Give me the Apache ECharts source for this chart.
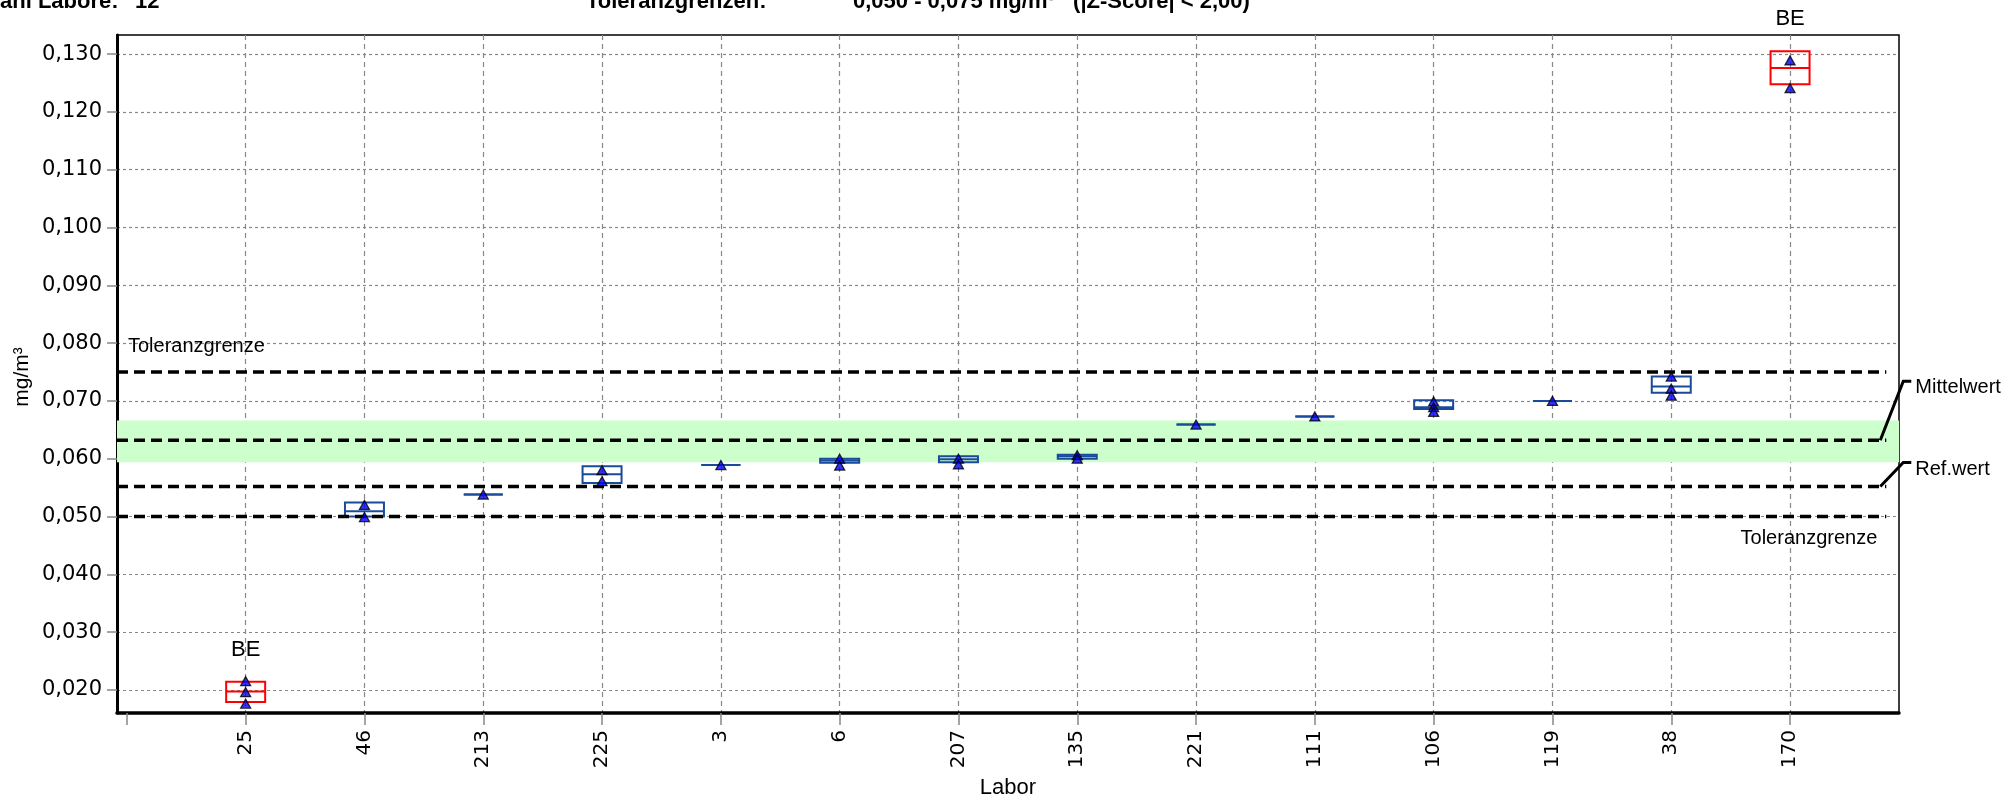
<!DOCTYPE html>
<html>
<head>
<meta charset="utf-8">
<script src="https://cdn.jsdelivr.net/npm/echarts@6/dist/echarts.min.js"></script>
<style>
html, body { margin: 0; padding: 0; background: #fff; }
#main { width: 2011px; height: 800px; }
</style>
</head>
<body>
<div id="main"></div>
<script>
// Labore in plot order
var labs = ['25', '46', '213', '225', '3', '6', '207', '135', '221', '111', '106', '119', '38', '170'];
// box per lab: lower edge, upper edge, middle line
var boxLow  = [0.0179, 0.0500, 0.0538, 0.0558, 0.0589, 0.0593, 0.0594, 0.0600, 0.0659, 0.0673, 0.0686, 0.0700, 0.0714, 0.1248];
var boxHigh = [0.0214, 0.0524, 0.0538, 0.0587, 0.0589, 0.0600, 0.0604, 0.0607, 0.0659, 0.0673, 0.0701, 0.0700, 0.0742, 0.1305];
var boxMid  = [0.0197, 0.0509, 0.0538, 0.0573, 0.0589, 0.0597, 0.0599, 0.0604, 0.0659, 0.0673, 0.0689, 0.0700, 0.0725, 0.1276];
// single values (triangles)
var singleValues = [
  [0.0215, 0.0196, 0.0176],
  [0.0520, 0.0499],
  [0.0538],
  [0.0580, 0.0561],
  [0.0589],
  [0.0600, 0.0588],
  [0.0600, 0.0590],
  [0.0606, 0.0600],
  [0.0659],
  [0.0673],
  [0.0699, 0.0689, 0.0681],
  [0.0700],
  [0.0742, 0.0721, 0.0709],
  [0.1289, 0.1241]
];
// flag above box (outlier)
var flags = ['BE', '', '', '', '', '', '', '', '', '', '', '', '', 'BE'];

// reference lines
var refNames  = ['Toleranzgrenze', 'Mittelwert', 'Ref.wert', 'Toleranzgrenze'];
var refValues = [0.075, 0.0632, 0.0552, 0.050];
var bandLow = 0.0594;
var bandHigh = 0.0666;

var yTicks = [0.02, 0.03, 0.04, 0.05, 0.06, 0.07, 0.08, 0.09, 0.10, 0.11, 0.12, 0.13];

var headerLeft = 'ahl Labore:';
var headerCount = '12';
var headerTolTitle = 'Toleranzgrenzen:';
var headerTolValue = '0,050 - 0,075 mg/m³   (|Z-Score| < 2,00)';

var xMin = -0.083, xMax = 14.917;
var yMin = 0.016, yMax = 0.1333;
var lineEndX = 14.81;
var boxWidth = 39;

var chart = echarts.init(document.getElementById('main'));

var labPos = labs.map(function (l, i) { return i + 1; });

var boxData = labs.map(function (l, i) {
  return [i + 1, boxLow[i], boxHigh[i], boxMid[i]];
});

var triData = [];
singleValues.forEach(function (vals, i) {
  vals.forEach(function (v) { triData.push([i + 1, v]); });
});

var refSeries = refValues.map(function (v, i) {
  return {
    name: refNames[i],
    type: 'line',
    z: 3,
    silent: true,
    symbol: 'none',
    data: [[xMin, v], [lineEndX, v]],
    lineStyle: { color: '#000', width: 3.5, type: [11, 6] }
  };
});

var fmtY = function (v) { return v.toFixed(3).replace('.', ','); };

var option = {
  animation: false,
  grid: {
    left: 117, right: 112, top: 35, bottom: 87,
    show: true, borderColor: '#000', borderWidth: 1.5
  },
  xAxis: [{
    type: 'value',
    min: xMin, max: xMax,
    axisLine: { show: true, onZero: false, lineStyle: { color: '#000', width: 3.5 } },
    axisTick: { show: true, length: 12, customValues: labPos, lineStyle: { color: '#888', width: 1.5 } },
    axisLabel: {
      customValues: labPos, rotate: 90, margin: 17,
      fontFamily: 'DejaVu Sans', fontSize: 20, color: '#000',
      formatter: function (v) { return labs[Math.round(v) - 1]; }
    },
    splitLine: { show: true, lineStyle: { color: '#888', width: 1.2, type: [5, 4] } }
  }, {
    type: 'value',
    position: 'bottom',
    min: xMin, max: xMax,
    axisLine: { show: false },
    axisTick: { show: true, length: 12, customValues: [0], lineStyle: { color: '#888', width: 1.5 } },
    axisLabel: { show: false },
    splitLine: { show: false }
  }],
  yAxis: {
    type: 'value',
    min: yMin, max: yMax,
    axisLine: { show: true, onZero: false, lineStyle: { color: '#000', width: 3 } },
    axisTick: { show: true, length: 10, customValues: yTicks, lineStyle: { color: '#888', width: 1.5 } },
    axisLabel: {
      customValues: yTicks, margin: 15,
      fontFamily: 'DejaVu Sans', fontSize: 21, color: '#000',
      formatter: fmtY
    },
    splitLine: { show: true, lineStyle: { color: '#888', width: 1.2, type: [3, 3] } }
  },
  series: [{
    name: 'band',
    type: 'line',
    data: [],
    silent: true,
    z: 1,
    markArea: {
      silent: true,
      itemStyle: { color: '#ccffcc' },
      data: [[{ yAxis: bandHigh }, { yAxis: bandLow }]]
    }
  }, {
    name: 'boxes',
    type: 'custom',
    z: 2,
    silent: true,
    data: boxData,
    renderItem: function (params, api) {
      var x = api.value(0);
      var lo = api.coord([x, api.value(1)]);
      var hi = api.coord([x, api.value(2)]);
      var md = api.coord([x, api.value(3)]);
      var flag = flags[params.dataIndex];
      var color = flag ? '#ff0000' : '#1a4a9a';
      var half = boxWidth / 2;
      var children = [{
        type: 'rect',
        shape: { x: lo[0] - half, y: hi[1], width: boxWidth, height: lo[1] - hi[1] },
        style: { fill: 'none', stroke: color, lineWidth: 2 }
      }, {
        type: 'line',
        shape: { x1: lo[0] - half, y1: md[1], x2: lo[0] + half, y2: md[1] },
        style: { stroke: color, lineWidth: 2 }
      }];
      if (flag) {
        children.push({
          type: 'text',
          style: {
            text: flag, x: lo[0], y: hi[1] - 32, align: 'center', verticalAlign: 'middle',
            fontFamily: 'Liberation Sans', fontSize: 22, fill: '#000'
          }
        });
      }
      return { type: 'group', children: children };
    }
  }].concat(refSeries).concat([{
    name: 'Einzelwerte',
    type: 'scatter',
    z: 4,
    silent: true,
    symbol: 'triangle',
    symbolSize: [10, 9],
    itemStyle: { color: '#0000ff', borderColor: '#000', borderWidth: 1.3 },
    data: triData
  }])
};

chart.setOption(option);

// texts and leader lines placed from the axis scales
var px = function (x, y) { return chart.convertToPixel({ xAxisIndex: 0, yAxisIndex: 0 }, [x, y]); };
var txt = function (text, x, y, align, size, bold, rot) {
  return {
    type: 'text', x: x, y: y, rotation: rot || 0, z: 10,
    style: {
      text: text, x: 0, y: 0, align: align, verticalAlign: 'middle',
      fontFamily: 'Liberation Sans', fontSize: size, fontWeight: bold ? 'bold' : 'normal', fill: '#000'
    }
  };
};

var pTop = px(xMin, refValues[0]);
var pMit = px(lineEndX, refValues[1]);
var pRef = px(lineEndX, refValues[2]);
var pLow = px(lineEndX, refValues[3]);
var gLeft = pTop[0];

var graphics = [
  txt(headerLeft, 0, 2, 'left', 22, true),
  txt(headerCount, 135, 2, 'left', 22, true),
  txt(headerTolTitle, 586, 2, 'left', 22, true),
  txt(headerTolValue, 853, 2, 'left', 22, true),
  txt('mg/m³', 22, 377, 'center', 21, false, Math.PI / 2),
  txt('Labor', 1008, 788, 'center', 22, false),
  txt(refNames[0], gLeft + 11, pTop[1] - 25, 'left', 20, false),
  txt(refNames[3], pLow[0] - 9, pLow[1] + 22, 'right', 20, false),
  {
    type: 'polyline', z: 10,
    shape: { points: [[pMit[0] - 6, pMit[1]], [pMit[0] + 17, pMit[1] - 59], [pMit[0] + 25, pMit[1] - 59]] },
    style: { stroke: '#000', lineWidth: 3, fill: null }
  },
  txt(refNames[1], pMit[0] + 29, pMit[1] - 53, 'left', 20, false),
  {
    type: 'polyline', z: 10,
    shape: { points: [[pRef[0] - 6, pRef[1]], [pRef[0] + 17, pRef[1] - 24], [pRef[0] + 25, pRef[1] - 24]] },
    style: { stroke: '#000', lineWidth: 3, fill: null }
  },
  txt(refNames[2], pRef[0] + 29, pRef[1] - 17, 'left', 20, false)
];

chart.setOption({ graphic: graphics });
</script>
</body>
</html>
